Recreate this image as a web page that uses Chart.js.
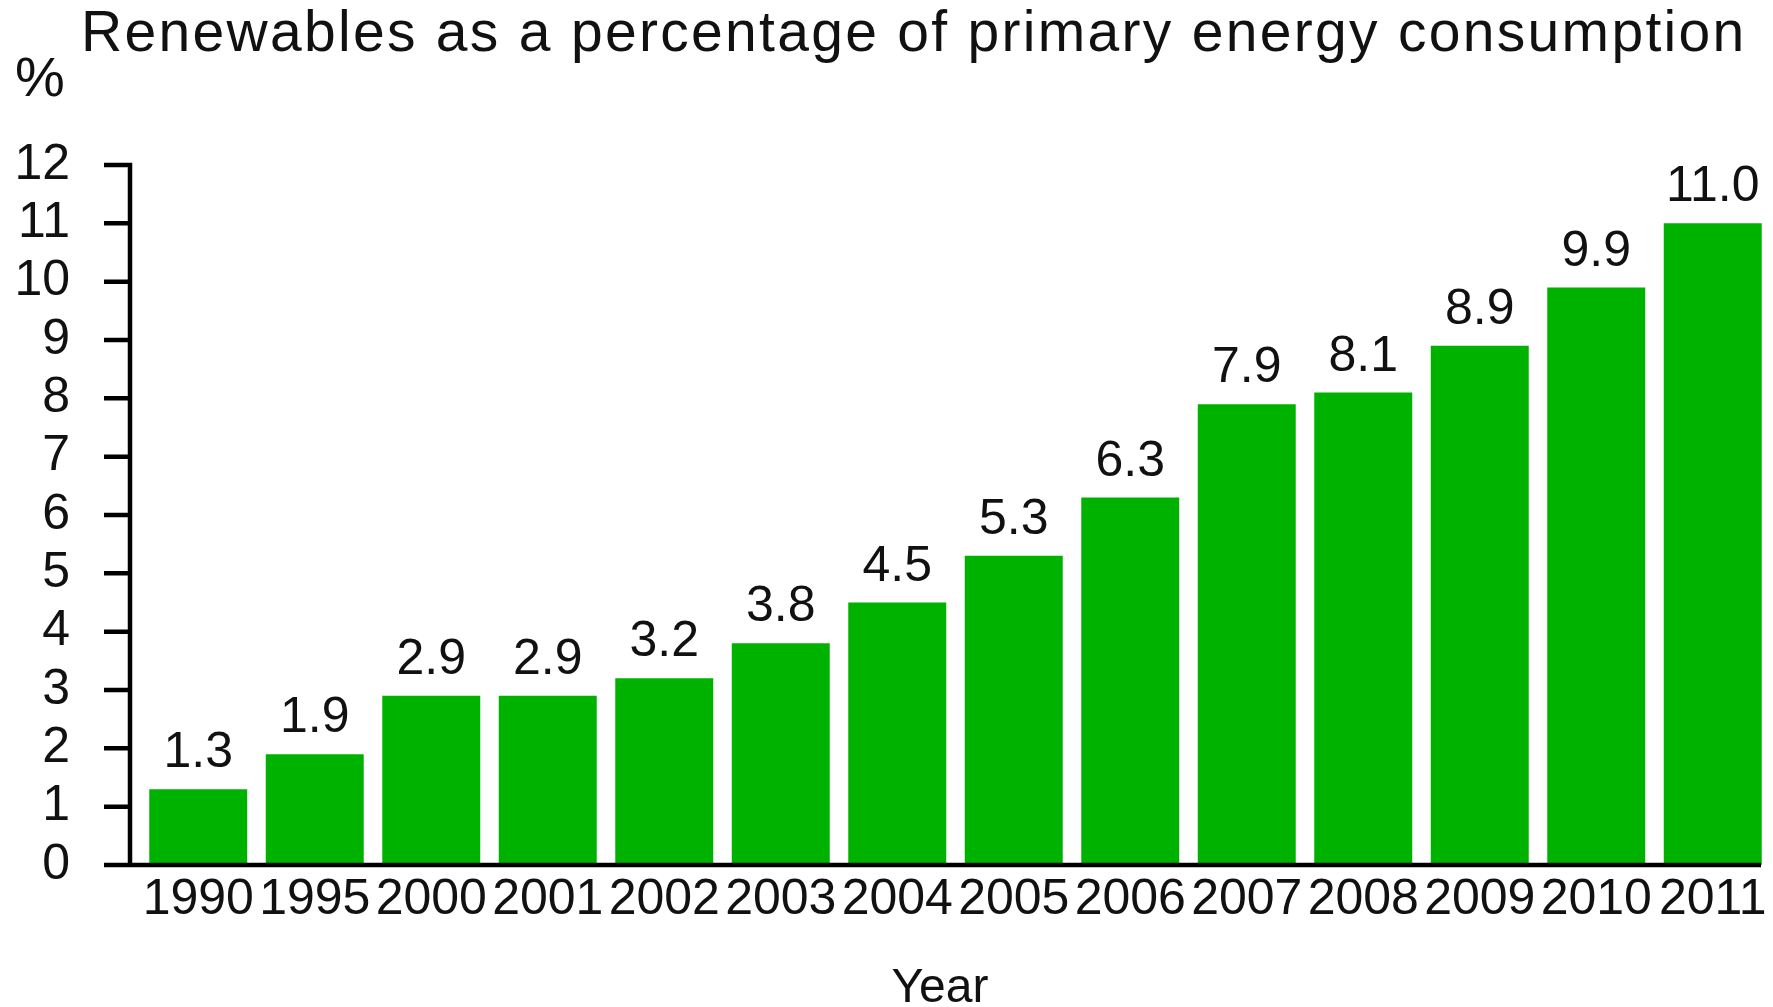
<!DOCTYPE html>
<html>
<head>
<meta charset="utf-8">
<title>Renewables share</title>
<script src="https://cdn.jsdelivr.net/npm/chart.js@4.4.1/dist/chart.umd.min.js"></script>
<style>
  html, body { margin: 0; padding: 0; background: #fff; }
  canvas { display: block; }
</style>
</head>
<body>
<canvas id="shareChart" width="1773" height="1007"></canvas>
<script>
const years = ['1990', '1995', '2000', '2001', '2002', '2003', '2004',
               '2005', '2006', '2007', '2008', '2009', '2010', '2011'];
const shares = [1.3, 1.9, 2.9, 2.9, 3.2, 3.8, 4.5, 5.3, 6.3, 7.9, 8.1, 8.9, 9.9, 11.0];
const yMax = 12;
const yStep = 1;

const titleText = 'Renewables as a percentage of primary energy consumption';
const unitText = '%';
const xTitleText = 'Year';

const fontFamily = '"Liberation Sans", Arial, Helvetica, sans-serif';
const ink = '#111';
const barGreen = '#00b200';

Chart.defaults.font.family = fontFamily;
Chart.defaults.color = ink;

// axis lines, value labels and the captions drawn on the canvas
const decorations = {
  id: 'decorations',
  afterDatasetsDraw(chart) {
    const { ctx, chartArea, scales: { y } } = chart;
    const axisX = chartArea.left - 10;
    const base = y.getPixelForValue(0);
    const top = y.getPixelForValue(yMax);

    // value above every bar
    ctx.save();
    ctx.fillStyle = ink;
    ctx.font = '50px ' + fontFamily;
    ctx.textAlign = 'center';
    ctx.textBaseline = 'alphabetic';
    chart.getDatasetMeta(0).data.forEach((bar, i) => {
      ctx.fillText(shares[i].toFixed(1), bar.x, bar.y - 22);
    });
    ctx.restore();

    ctx.save();
    ctx.strokeStyle = '#000';
    ctx.lineWidth = 4.5;
    ctx.beginPath();
    ctx.moveTo(axisX, top - 2.25);
    ctx.lineTo(axisX, base);
    for (let v = yStep; v <= yMax; v += yStep) {
      const py = y.getPixelForValue(v);
      ctx.moveTo(axisX - 26, py);
      ctx.lineTo(axisX + 2.25, py);
    }
    ctx.moveTo(axisX - 26, base);
    ctx.lineTo(chartArea.right - 10, base);
    ctx.stroke();
    ctx.restore();
  },
  afterDraw(chart) {
    const { ctx } = chart;
    ctx.save();
    ctx.fillStyle = ink;
    ctx.textBaseline = 'alphabetic';

    ctx.font = '57px ' + fontFamily;
    ctx.textAlign = 'left';
    ctx.letterSpacing = '2.3px';
    ctx.fillText(titleText, 81, 51);
    ctx.letterSpacing = '0px';

    ctx.font = '56px ' + fontFamily;
    ctx.fillText(unitText, 15, 96);

    ctx.font = '48px ' + fontFamily;
    ctx.textAlign = 'center';
    ctx.fillText(xTitleText, 940, 1002);
    ctx.restore();
  }
};

new Chart(document.getElementById('shareChart'), {
  type: 'bar',
  data: {
    labels: years,
    datasets: [{
      data: shares,
      backgroundColor: barGreen,
      borderWidth: 0,
      categoryPercentage: 1,
      barPercentage: 0.841
    }]
  },
  options: {
    responsive: false,
    animation: false,
    devicePixelRatio: 1,
    layout: { padding: { top: 165, right: 2, left: 0, bottom: 0 } },
    plugins: {
      legend: { display: false },
      tooltip: { enabled: false },
      title: { display: false }
    },
    scales: {
      x: {
        grid: { display: false, drawTicks: false },
        border: { display: false },
        ticks: { font: { size: 50 }, padding: 5, color: ink, maxRotation: 0, autoSkip: false },
        afterFit(scale) { scale.height = 142; }
      },
      y: {
        min: 0,
        max: yMax,
        grid: { display: false, drawTicks: false },
        border: { display: false },
        ticks: { stepSize: yStep, autoSkip: false, font: { size: 50 }, padding: 70, color: ink },
        afterFit(scale) { scale.width = 140; }
      }
    }
  },
  plugins: [decorations]
});
</script>
</body>
</html>
